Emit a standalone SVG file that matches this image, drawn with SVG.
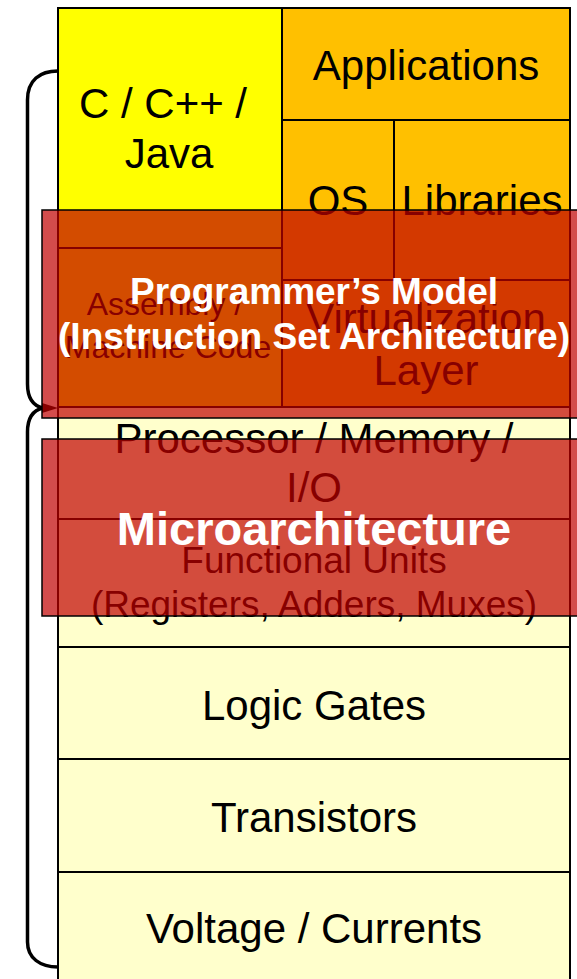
<svg xmlns="http://www.w3.org/2000/svg" width="577" height="979" viewBox="0 0 577 979">
  <style>
    .cell { stroke: #000; stroke-width: 2; }
    .yellow { fill: #ffff00; }
    .orange { fill: #ffc000; }
    .pale { fill: #ffffcc; }
    .label { font-family: "Liberation Sans", Arial, sans-serif; font-size: 42px; fill: #000; text-anchor: middle; }
    .small { font-size: 32px; }
    .mid { font-size: 37px; }
    .band { fill: #c00000; fill-opacity: 0.7; stroke: #000; stroke-width: 1.5; }
    .band-title { font-family: "Liberation Sans", Arial, sans-serif; font-weight: bold; fill: #fff; text-anchor: middle; }
    .brace { fill: none; stroke: #000; stroke-width: 3.5; stroke-linecap: round; }
  </style>
  <rect x="0" y="0" width="577" height="979" fill="#fff"/>

  <!-- braces on the left side -->
  <g id="connectors">
    <path class="brace" d="M58,71 C40,71 27.5,80 27.5,100 L27.5,384 C27.5,399 34,406 43,408"/>
    <path class="brace" d="M43,408 C34,410 27.5,417 27.5,432 L27.5,942 C27.5,958 40,967 58,967"/>
    <polygon points="42,403 58,408 42,413" fill="#000"/>
  </g>

  <!-- software layers -->
  <g id="c-lang">
    <rect class="cell yellow" x="58" y="8" width="224" height="240"/>
    <text class="label" x="163" y="118">C / C++ /</text>
    <text class="label" x="169" y="168">Java</text>
  </g>
  <g id="applications">
    <rect class="cell orange" x="282" y="8" width="288" height="112"/>
    <text class="label" x="426" y="80">Applications</text>
  </g>
  <g id="os">
    <rect class="cell orange" x="282" y="120" width="112" height="160"/>
    <text class="label" x="338" y="215">OS</text>
  </g>
  <g id="libraries">
    <rect class="cell orange" x="394" y="120" width="176" height="160"/>
    <text class="label" x="482" y="215">Libraries</text>
  </g>
  <g id="assembly">
    <rect class="cell yellow" x="58" y="248" width="224" height="159"/>
    <text class="label small" x="165" y="315">Assembly /</text>
    <text class="label small" x="168" y="358">Machine Code</text>
  </g>
  <g id="virtualization">
    <rect class="cell orange" x="282" y="280" width="288" height="127"/>
    <text class="label" x="426" y="333">Virtualization</text>
    <text class="label" x="426" y="385">Layer</text>
  </g>

  <!-- hardware layers -->
  <g id="processor">
    <rect class="cell pale" x="58" y="407" width="512" height="112"/>
    <text class="label" x="314" y="453">Processor / Memory /</text>
    <text class="label" x="314" y="502">I/O</text>
  </g>
  <g id="functional-units">
    <rect class="cell pale" x="58" y="519" width="512" height="128"/>
    <text class="label mid" x="314" y="573">Functional Units</text>
    <text class="label mid" x="314" y="617">(Registers, Adders, Muxes)</text>
  </g>
  <g id="logic-gates">
    <rect class="cell pale" x="58" y="647" width="512" height="112"/>
    <text class="label" x="314" y="720">Logic Gates</text>
  </g>
  <g id="transistors">
    <rect class="cell pale" x="58" y="759" width="512" height="113"/>
    <text class="label" x="314" y="832">Transistors</text>
  </g>
  <g id="voltage">
    <rect class="cell pale" x="58" y="872" width="512" height="120"/>
    <text class="label" x="314" y="943">Voltage / Currents</text>
  </g>

  <!-- translucent abstraction bands -->
  <g id="isa">
    <rect class="band" x="42" y="210" width="545" height="208"/>
    <text class="band-title" x="314" y="304" font-size="37" textLength="368" lengthAdjust="spacingAndGlyphs">Programmer’s Model</text>
    <text class="band-title" x="314" y="349" font-size="37" textLength="512" lengthAdjust="spacingAndGlyphs">(Instruction Set Architecture)</text>
  </g>
  <g id="microarchitecture">
    <rect class="band" x="42" y="439" width="545" height="177"/>
    <text class="band-title" x="314" y="545" font-size="47">Microarchitecture</text>
  </g>
</svg>
